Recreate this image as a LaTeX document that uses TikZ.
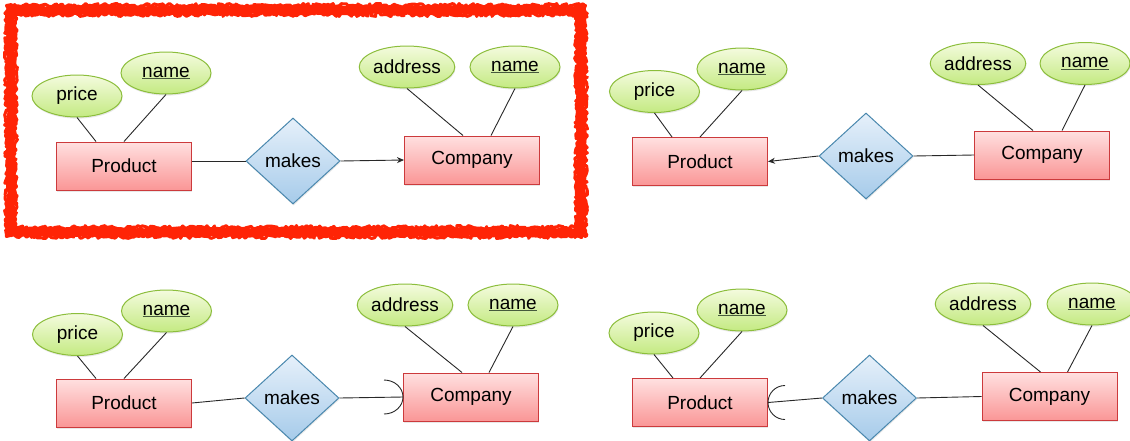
\documentclass[tikz,border=0pt]{standalone}
\usepackage{fontspec}
\setmainfont{Liberation Sans}
\usetikzlibrary{shapes.geometric,arrows.meta,calc,shadows,decorations.pathmorphing}

\definecolor{entTop}{RGB}{255,224,224}
\definecolor{entBot}{RGB}{250,150,150}
\definecolor{entLine}{RGB}{204,58,60}
\definecolor{attTop}{RGB}{244,251,222}
\definecolor{attBot}{RGB}{196,234,130}
\definecolor{attLine}{RGB}{140,190,60}
\definecolor{relTop}{RGB}{230,240,250}
\definecolor{relBot}{RGB}{166,203,234}
\definecolor{relLine}{RGB}{74,136,174}
\definecolor{uline}{RGB}{70,90,60}
\definecolor{hilite}{RGB}{255,36,6}
\definecolor{wire}{RGB}{40,40,40}

\newcommand{\keyname}[1]{\textcolor{uline}{\underline{\textcolor{black}{#1}}}}

\tikzset{
  erfont/.style={font=\fontsize{19}{22}\selectfont, text=black},
  softshadow/.style={drop shadow={opacity=0.18, shadow xshift=0.6pt, shadow yshift=-1.6pt}},
  entity/.style={rectangle, erfont, draw=entLine, line width=1pt,
    top color=entTop, bottom color=entBot, minimum width=135pt,
    minimum height=48pt, inner sep=0pt, softshadow},
  attr/.style={ellipse, erfont, draw=attLine, line width=1pt,
    top color=attTop, bottom color=attBot, minimum width=90pt,
    minimum height=42pt, inner sep=0pt, softshadow},
  rel/.style={diamond, erfont, draw=relLine, line width=1pt,
    top color=relTop, bottom color=relBot, minimum width=94pt,
    minimum height=86pt, inner sep=0pt, softshadow},
  link/.style={draw=wire, line width=0.9pt},
  arrowlink/.style={link, -{Stealth[length=7pt,width=6pt]}},
  roughframe/.style={draw=hilite, line join=round,
    decorate, decoration={random steps, segment length=2.5pt, amplitude=1.3pt}}
}

\begin{document}
\begin{tikzpicture}[x=1pt, y=-1pt]
\useasboundingbox (0,0) rectangle (1130,440);
\clip (0,0) rectangle (1130,440);

% ---------- highlight frame round the first diagram ----------
\draw[roughframe, line width=9pt] (11,10) rectangle (581,232);
\draw[roughframe, line width=3pt, decoration={random steps, segment length=2pt, amplitude=2pt}] (6.5,5.5) rectangle (585.5,236.5);
\draw[roughframe, line width=3pt, decoration={random steps, segment length=2pt, amplitude=2pt}] (15.5,14.5) rectangle (576.5,227.5);

% ---------- diagram 1: plain arrow into Company ----------
\node[attr]   (aPrice) at (77,96)   {price};
\node[attr]   (aPname) at (166,73)  {\keyname{name}};
\node[entity] (aProd)  at (124,166) {Product};
\node[rel]    (aMakes) at (293,161) {makes};
\node[entity] (aComp)  at (472,160) {Company};
\node[attr]   (aAddr)  at (407,67)  {address};
\node[attr]   (aCname) at (515,67)  {\keyname{name}};

\draw[link] (aPrice.south) -- ($(aProd.north)+(-28,0)$);
\draw[link] (aPname.south) -- (aProd.north);
\draw[link] (aAddr.south) -- ($(aComp.north)+(-9,0)$);
\draw[link] (aCname.south) -- ($(aComp.north)+(19,0)$);
\draw[link] (aMakes.west) -- (aProd.east |- aMakes.west);
\draw[arrowlink] (aMakes.east) -- (aComp.west);

% ---------- diagram 2: arrow into Product ----------
\node[attr]   (bPrice) at (654.5,91.5) {price};
\node[attr]   (bPname) at (742,69)     {\keyname{name}};
\node[entity] (bProd)  at (700,161.5)  {Product};
\node[rel]    (bMakes) at (866,156)    {makes};
\node[entity] (bComp)  at (1042,155)   {Company};
\node[attr]   (bAddr)  at (978,63.5)   {address};
\node[attr]   (bCname) at (1085,63.5)  {\keyname{name}};

\draw[link] (bPrice.south) -- ($(bProd.north)+(-28,0)$);
\draw[link] (bPname.south) -- (bProd.north);
\draw[link] (bAddr.south) -- ($(bComp.north)+(-9,0)$);
\draw[link] (bCname.south) -- ($(bComp.north)+(20,0)$);
\draw[arrowlink] (bMakes.west) -- (bProd.east);
\draw[link] (bMakes.east) -- (bComp.west);

% ---------- diagram 3: rounded end at Company ----------
\node[attr]   (cPrice) at (77.5,334.5) {price};
\node[attr]   (cPname) at (166.5,311)  {\keyname{name}};
\node[entity] (cProd)  at (124,403)    {Product};
\node[rel]    (cMakes) at (292,398)    {makes};
\node[entity] (cComp)  at (471,397)    {Company};
\node[attr]   (cAddr)  at (405,305)    {address};
\node[attr]   (cCname) at (513,305)    {\keyname{name}};

\draw[link] (cPrice.south) -- ($(cProd.north)+(-28,0)$);
\draw[link] (cPname.south) -- (cProd.north);
\draw[link] (cAddr.south) -- ($(cComp.north)+(-9,0)$);
\draw[link] (cCname.south) -- ($(cComp.north)+(18,0)$);
\draw[link] (cMakes.west) -- (cProd.east);
\draw[link] (cMakes.east) -- (cComp.west);
\coordinate (cTip) at (cComp.west);
\draw[link] ($(cTip)+(-19,-17)$) .. controls +(10.5,0) and +(0,-9.4) .. (cTip)
            .. controls +(0,9.4) and +(10.5,0) .. ($(cTip)+(-19,17)$);

% ---------- diagram 4: rounded end at Product ----------
\node[attr]   (dPrice) at (654,333)     {price};
\node[attr]   (dPname) at (742,310)     {\keyname{name}};
\node[entity] (dProd)  at (700,402.5)   {Product};
\node[rel]    (dMakes) at (869.5,398)   {makes};
\node[entity] (dComp)  at (1049.5,396.5) {Company};
\node[attr]   (dAddr)  at (983,304)     {address};
\node[attr]   (dCname) at (1092,304)    {\keyname{name}};

\draw[link] (dPrice.south) -- ($(dProd.north)+(-27,0)$);
\draw[link] (dPname.south) -- (dProd.north);
\draw[link] (dAddr.south) -- ($(dComp.north)+(-9,0)$);
\draw[link] (dCname.south) -- ($(dComp.north)+(18,0)$);
\draw[link] (dMakes.west) -- (dProd.east);
\draw[link] (dMakes.east) -- (dComp.west);
\coordinate (dTip) at (dProd.east);
\draw[link] ($(dTip)+(17,-17)$) .. controls +(-9.4,0) and +(0,-9.4) .. (dTip)
            .. controls +(0,9.4) and +(-9.4,0) .. ($(dTip)+(17,17)$);
\end{tikzpicture}
\end{document}
